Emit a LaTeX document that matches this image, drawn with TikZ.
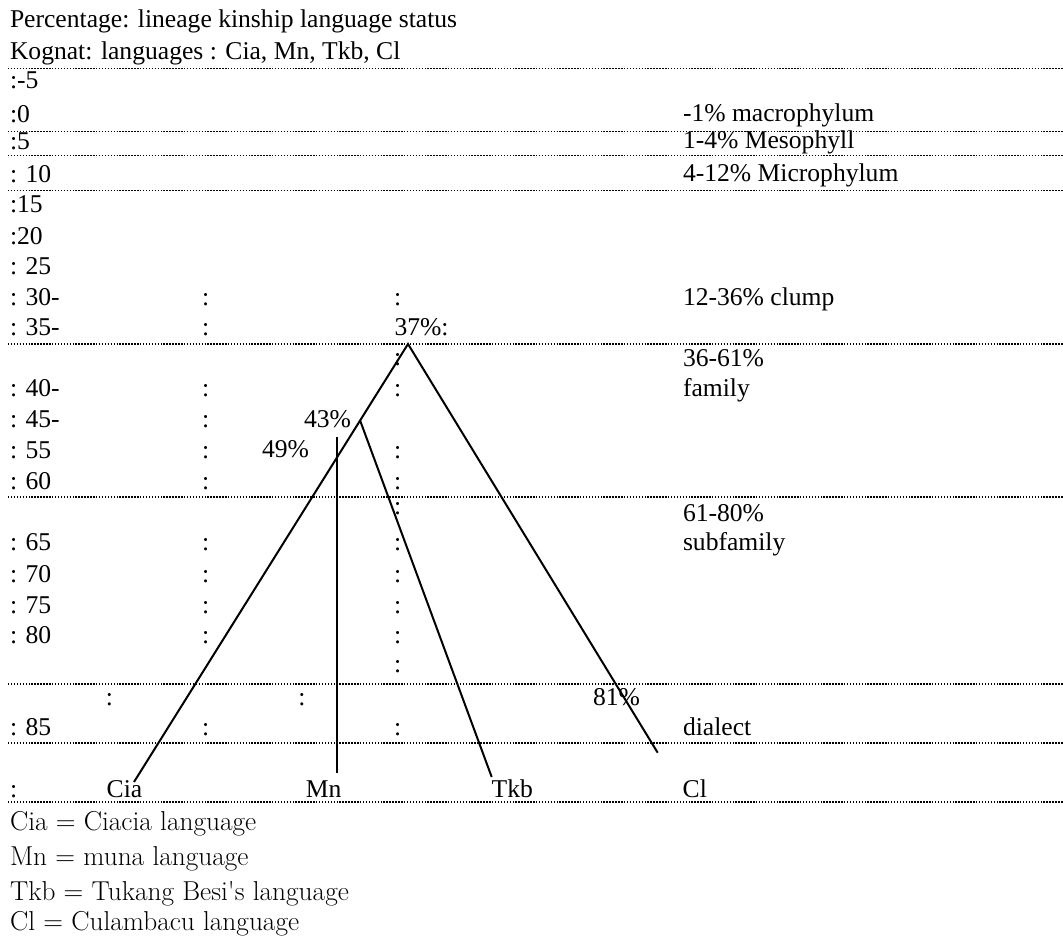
\documentclass[tikz,border=0pt]{standalone}
\usepackage{fontspec}
\newfontfamily\tnr{Liberation Serif}
\begin{document}
\begin{tikzpicture}[x=0.75pt,y=-0.75pt,
  txt/.style={anchor=base west, inner sep=0pt, outer sep=0pt, font=\tnr\fontsize{19.2}{22}\selectfont},
  colon/.style={anchor=base, inner sep=0pt, outer sep=0pt, font=\tnr\fontsize{19.2}{22}\selectfont},
  leg/.style={anchor=base west, inner sep=0pt, outer sep=0pt, font=\fontsize{20.5}{24}\selectfont},
  dotline/.style={line width=1.2pt, dash pattern=on 1.1pt off 1.1pt},
  branch/.style={line width=1.5pt}]
\useasboundingbox (0,0) rectangle (1063,944);

% dotted rules
\foreach \y in {68.5,131.5,155.5,190.5,344,497,684,743,802}
  \draw[dotline] (8,\y) -- (1063,\y);

% header
\node[txt] (title) at (10,28) {Percentage: lineage kinship language status};
\node[txt] (kognat) at (10,60) {Kognat: languages : Cia, Mn, Tkb, Cl};

% left scale
\node[txt] (s1) at (10,89) {:-5};
\node[txt] (s2) at (10,123) {:0};
\node[txt] (s3) at (10,150) {:5};
\node[txt] (s4) at (10,183) {: 10};
\node[txt] (s5) at (10,213) {:15};
\node[txt] (s6) at (10,245) {:20};
\node[txt] (s7) at (10,275) {: 25};
\node[txt] (s8) at (10,306) {: 30-};
\node[txt] (s9) at (10,336) {: 35-};
\node[txt] (s10) at (10,397) {: 40-};
\node[txt] (s11) at (10,428) {: 45-};
\node[txt] (s12) at (10,459) {: 55};
\node[txt] (s13) at (10,489) {: 60};
\node[txt] (s14) at (10,550) {: 65};
\node[txt] (s15) at (10,582) {: 70};
\node[txt] (s16) at (10,613) {: 75};
\node[txt] (s17) at (10,643) {: 80};
\node[txt] (s18) at (10,735) {: 85};
\node[txt] (s19) at (10,797) {:};

% column colons
\foreach \y [count=\i] in {306,336,397,428,459,489,550,582,613,643,735}
  \node[colon] (cb\i) at (205.6,\y) {:};
\foreach \y [count=\i] in {306,366,397,459,489,514,550,582,613,643,672,735}
  \node[colon] (cc\i) at (397.7,\y) {:};
\node[colon] (ca1) at (109.5,705) {:};
\node[colon] (ca2) at (302,705) {:};

% right labels
\node[txt] (r1) at (683,122) {-1\% macrophylum};
\node[txt] (r2) at (683,149) {1-4\% Mesophyll};
\node[txt] (r3) at (683,182) {4-12\% Microphylum};
\node[txt] (r4) at (683,306) {12-36\% clump};
\node[txt] (r5) at (683,367) {36-61\%};
\node[txt] (r6) at (683,397) {family};
\node[txt] (r7) at (683,521) {61-80\%};
\node[txt] (r8) at (683,550) {subfamily};
\node[txt] (r9) at (683,735) {dialect};

% percentages
\node[txt] (p37) at (394.5,336) {37\%:};
\node[txt] (p43) at (304,428) {43\%};
\node[txt] (p49) at (262,458) {49\%};
\node[txt] (p81) at (593,705) {81\%};

% leaves
\node[txt] (lcia) at (106.7,797) {Cia};
\node[txt] (lmn) at (305.8,797) {Mn};
\node[txt] (ltkb) at (491.7,797) {Tkb};
\node[txt] (lcl) at (682.7,797) {Cl};

% tree
\coordinate (apex) at (408,344);
\coordinate (j43) at (360.1,420.5);
\coordinate (ciaend) at (134,782);
\coordinate (tkbend) at (491.7,777);
\coordinate (mntop) at (336.7,437);
\coordinate (mnend) at (336.7,773);
\coordinate (clend) at (657.7,752.7);
\draw[branch] (ciaend) -- (j43) -- (apex) -- (clend);
\draw[branch] (j43) -- (tkbend);
\draw[branch] (mntop) -- (mnend);

% legend
\node[leg] (g1) at (10,830) {Cia = Ciacia language};
\node[leg] (g2) at (10,865) {Mn = muna language};
\node[leg] (g3) at (10,900) {Tkb = Tukang Besi\textquotesingle s language};
\node[leg] (g4) at (10,930) {Cl = Culambacu language};
\end{tikzpicture}
\end{document}
